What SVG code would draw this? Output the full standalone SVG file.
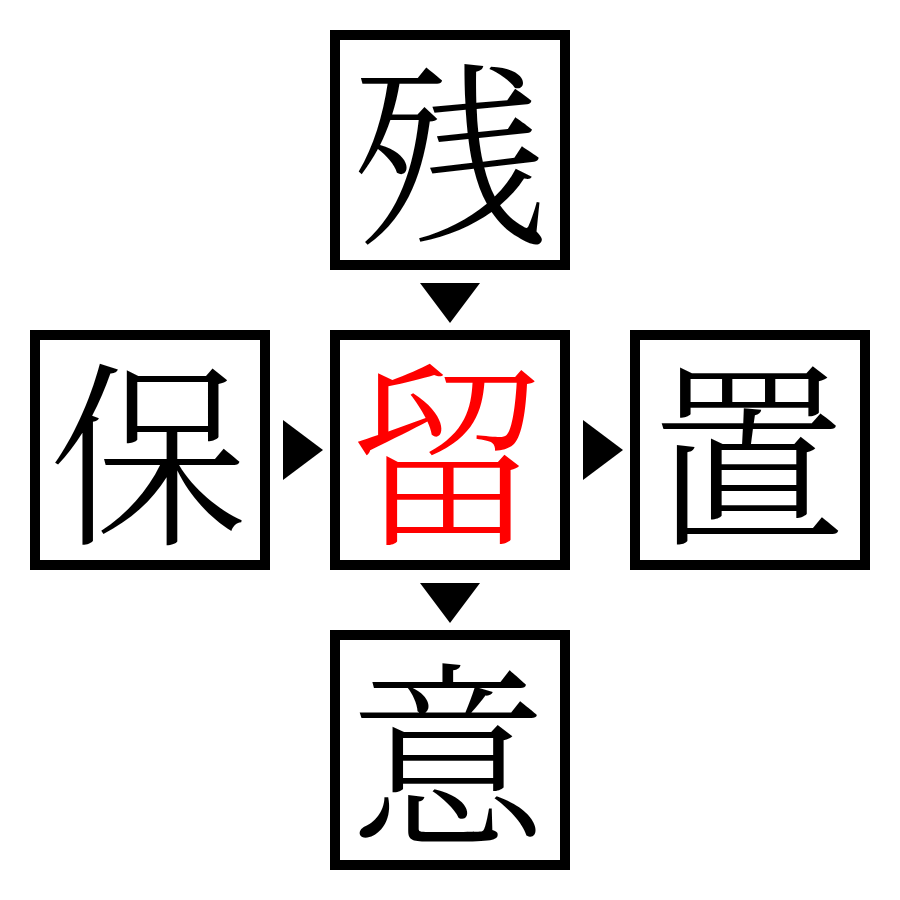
<svg xmlns="http://www.w3.org/2000/svg" width="900" height="900" viewBox="0 0 900 900">
<style>
.box{fill:#fff;stroke:#000;stroke-width:10}
.ch{font-family:"Noto Serif CJK JP","Noto Sans CJK JP",serif;font-size:198px;font-weight:300;text-anchor:middle;dominant-baseline:central;fill:#000}
.red{fill:#f00}
.arr{fill:#000}
</style>
<rect width="900" height="900" fill="#fff"/>
<g id="n-top"><rect class="box" x="335" y="35" width="230" height="230"/><text class="ch" x="450" y="143">残</text></g>
<g id="n-left"><rect class="box" x="35" y="335" width="230" height="230"/><text class="ch" x="148" y="443">保</text></g>
<g id="n-center"><rect class="box" x="335" y="335" width="230" height="230"/><text class="ch red" x="448" y="443">留</text></g>
<g id="n-right"><rect class="box" x="635" y="335" width="230" height="230"/><text class="ch" x="748" y="443">置</text></g>
<g id="n-bottom"><rect class="box" x="335" y="635" width="230" height="230"/><text class="ch" x="448" y="743">意</text></g>
<g id="connectors">
<polygon class="arr" points="420,283 480,283 450,323"/>
<polygon class="arr" points="283,420 283,480 323,450"/>
<polygon class="arr" points="583,420 583,480 623,450"/>
<polygon class="arr" points="420,583 480,583 450,623"/>
</g>
</svg>
